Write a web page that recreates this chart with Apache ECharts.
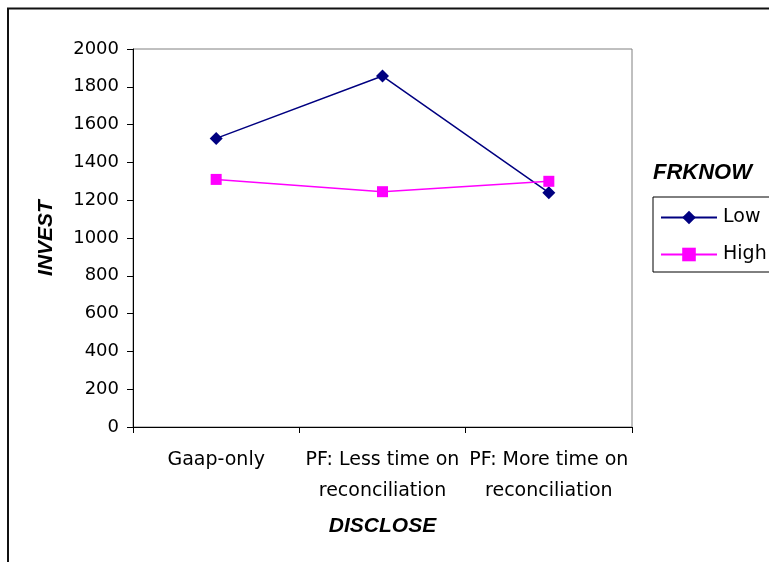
<!DOCTYPE html>
<html><head><meta charset="utf-8">
<script src="https://cdn.jsdelivr.net/npm/echarts@6/dist/echarts.min.js"></script>
<style>html,body{margin:0;padding:0;background:#fff}#c{width:769px;height:562px}</style>
</head><body><div id="c"></div>
<script>
const categories = ['Gaap-only', 'PF: Less time on\nreconciliation', 'PF: More time on\nreconciliation'];
const lowValues = [1527, 1857, 1240];
const highValues = [1310, 1245, 1300];
const seriesNames = ['Low', 'High'];
const legendTitle = 'FRKNOW';
const yName = 'INVEST';
const xName = 'DISCLOSE';

const chart = echarts.init(document.getElementById('c'));
const font = '"DejaVu Sans", sans-serif';
const boldFont = '"Liberation Sans", Arial, sans-serif';
const titleStyle = { fontFamily: boldFont, fontSize: 21, fontWeight: 'bold', fontStyle: 'italic', color: '#000' };
chart.setOption({
  animation: false,
  backgroundColor: '#fff',
  graphic: [{
    type: 'rect', shape: { x: 8, y: 8.5, width: 800, height: 600 },
    style: { fill: 'none', stroke: '#111', lineWidth: 2 }, z: -1
  }],
  title: {
    text: legendTitle, left: 648, top: 157,
    textStyle: Object.assign({}, titleStyle, { fontSize: 22 })
  },
  legend: {
    orient: 'vertical', left: 653, top: 197,
    data: seriesNames,
    itemWidth: 56, itemHeight: 17, itemGap: 18,
    padding: [11, 40, 8, 7],
    borderColor: '#000', borderWidth: 1,
    textStyle: { fontFamily: font, fontSize: 19, color: '#000', padding: [0, 0, 0, 1] }
  },
  grid: { left: 133, top: 49, right: 137, bottom: 135, show: true, borderColor: '#808080', borderWidth: 1 },
  xAxis: {
    type: 'category', data: categories, boundaryGap: true,
    name: xName, nameLocation: 'middle', nameGap: 89,
    nameTextStyle: titleStyle,
    axisLine: { lineStyle: { color: '#000' } },
    axisTick: { show: true, length: 6, lineStyle: { color: '#000' } },
    axisLabel: { fontFamily: font, fontSize: 19, color: '#000', margin: 18, lineHeight: 31, interval: 0 }
  },
  yAxis: {
    type: 'value', min: 0, max: 2000, interval: 200,
    name: yName, nameLocation: 'middle', nameGap: 76, nameRotate: 90,
    nameTextStyle: titleStyle,
    axisLine: { show: true, lineStyle: { color: '#000' } },
    axisTick: { show: true, length: 6, lineStyle: { color: '#000' } },
    splitLine: { show: false },
    axisLabel: { fontFamily: font, fontSize: 18, color: '#000', margin: 14, formatter: v => String(v) }
  },
  series: [
    { name: seriesNames[0], type: 'line', data: lowValues, symbol: 'diamond', symbolSize: 13,
      color: '#000080', lineStyle: { width: 1.5, color: '#000080' }, itemStyle: { color: '#000080' } },
    { name: seriesNames[1], type: 'line', data: highValues, symbol: 'rect', symbolSize: 11,
      color: '#FF00FF', lineStyle: { width: 1.5, color: '#FF00FF' }, itemStyle: { color: '#FF00FF' } }
  ]
});
</script></body></html>
